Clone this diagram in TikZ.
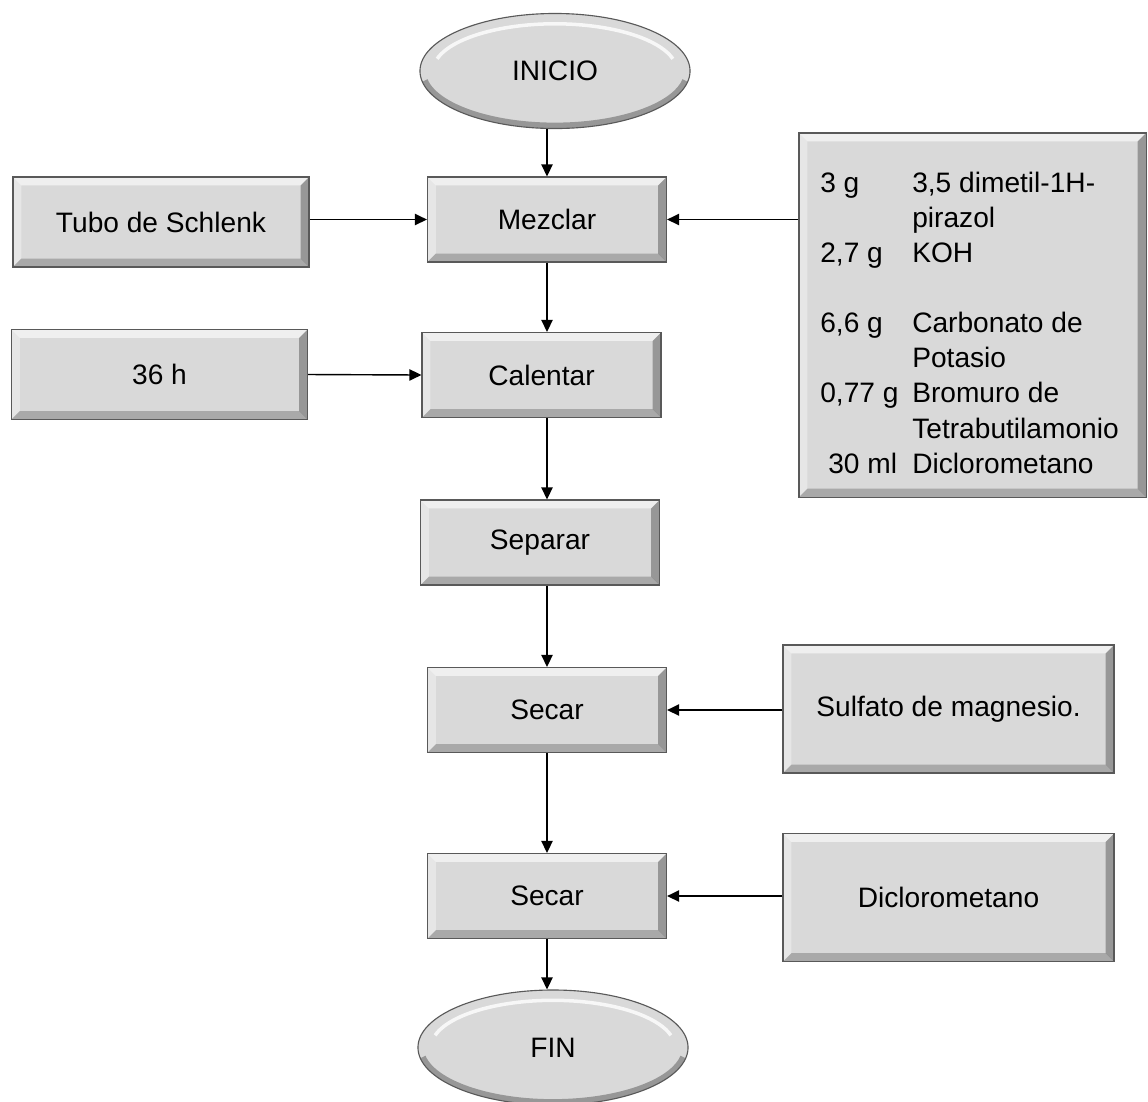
\documentclass[tikz,border=0pt]{standalone}
\usepackage{fontspec}
\setmainfont{Liberation Sans}
\usetikzlibrary{positioning, shapes.geometric, arrows.meta}

\tikzset{
  bevel/.style={path picture={
    \fill[white,opacity=.6] (path picture bounding box.north west) -- (path picture bounding box.north east)
      -- ([xshift=-#1,yshift=-#1]path picture bounding box.north east) -- ([xshift=#1,yshift=-#1]path picture bounding box.north west) -- cycle;
    \fill[white,opacity=.35] (path picture bounding box.north west) -- (path picture bounding box.south west)
      -- ([xshift=#1,yshift=#1]path picture bounding box.south west) -- ([xshift=#1,yshift=-#1]path picture bounding box.north west) -- cycle;
    \fill[black,opacity=.3] (path picture bounding box.north east) -- (path picture bounding box.south east)
      -- ([xshift=-#1,yshift=#1]path picture bounding box.south east) -- ([xshift=-#1,yshift=-#1]path picture bounding box.north east) -- cycle;
    \fill[black,opacity=.22] (path picture bounding box.south west) -- (path picture bounding box.south east)
      -- ([xshift=-#1,yshift=#1]path picture bounding box.south east) -- ([xshift=#1,yshift=#1]path picture bounding box.south west) -- cycle;
  }},
  procbox/.style={draw=black!65, line width=0.8pt, fill=black!15, bevel=6pt,
    minimum width=5.975cm, minimum height=2.125cm, inner sep=0pt, align=center,
    font=\fontsize{20}{24}\selectfont},
  sidebox/.style={procbox, minimum width=7.4cm, minimum height=2.25cm},
  widebox/.style={procbox, minimum width=8.275cm, minimum height=3.2cm},
  termnode/.style={ellipse, draw=black!65, line width=0.8pt, fill=black!15,
    minimum width=6.75cm, minimum height=2.875cm, inner sep=0pt,
    font=\fontsize{20}{24}\selectfont,
    path picture={
      \draw[white,opacity=.8,line width=2.5pt] ([shift={(165:3.05cm and 1.18cm)}]path picture bounding box.center)
        arc[start angle=165,end angle=15,x radius=3.05cm,y radius=1.18cm];
      \draw[black,opacity=.3,line width=4pt] ([shift={(190:3.3cm and 1.36cm)}]path picture bounding box.center)
        arc[start angle=190,end angle=350,x radius=3.3cm,y radius=1.36cm];
    }},
  flow/.style={draw=black, line width=1pt, -{Triangle[length=8.5pt,width=8pt]}}
}

\begin{document}
\begin{tikzpicture}[x=0.025cm, y=-0.025cm]
  \useasboundingbox (0,0) rectangle (1148,1101);
  % main column
  \node[termnode] (inicio) at (555,71) {INICIO};
  \node[procbox] (mezclar) at (547,219.5) {Mezclar};
  \node[procbox] (calentar) at (541.5,375) {Calentar};
  \node[procbox] (separar) at (540,542.5) {Separar};
  \node[procbox] (secara) at (547,710) {Secar};
  \node[procbox] (secarb) at (547,896) {Secar};
  \node[termnode] (fin) at (553,1047.5) {FIN};
  % inputs
  \node[sidebox] (tubo) at (161,222) {Tubo de Schlenk};
  \node[sidebox] (horas) at (159.5,374.5) {36 h};
  \node[widebox] (sulfato) at (948.5,709) {Sulfato de magnesio.};
  \node[widebox] (dicloro) at (948.5,897.5) {Diclorometano};
  \node[procbox, minimum width=8.675cm, minimum height=9.1cm] (reactivos) at (972.5,315) {};
  \node[anchor=base west, inner sep=0pt, font=\fontsize{20}{25}\selectfont] (listado) at (820,192)
    {\begin{tabular}[t]{@{}p{2.3cm}@{}l@{}}
      3 g & 3,5 dimetil-1H-\\
          & pirazol\\
      2,7 g & KOH\\
          & \\
      6,6 g & Carbonato de\\
          & Potasio\\
      0,77 g & Bromuro de\\
          & Tetrabutilamonio\\
      \hspace{0.2cm}30 ml & Diclorometano
    \end{tabular}};
  % connectors
  \draw[flow] (inicio.south -| mezclar) -- (mezclar.north);
  \draw[flow] (mezclar.south) -- (mezclar.south |- calentar.north);
  \draw[flow] (mezclar |- calentar.south) -- (mezclar |- separar.north);
  \draw[flow] (mezclar |- separar.south) -- (secara.north);
  \draw[flow] (secara.south) -- (secarb.north);
  \draw[flow] (secarb.south) -- (secarb.south |- fin.north);
  \draw[flow] (tubo.east |- mezclar) -- (mezclar.west);
  \draw[flow] (reactivos.west |- mezclar) -- (mezclar.east);
  \draw[flow] (horas.east) -- (calentar.west);
  \draw[flow] (sulfato.west |- secara) -- (secara.east);
  \draw[flow] (dicloro.west |- secarb) -- (secarb.east);
\end{tikzpicture}
\end{document}
